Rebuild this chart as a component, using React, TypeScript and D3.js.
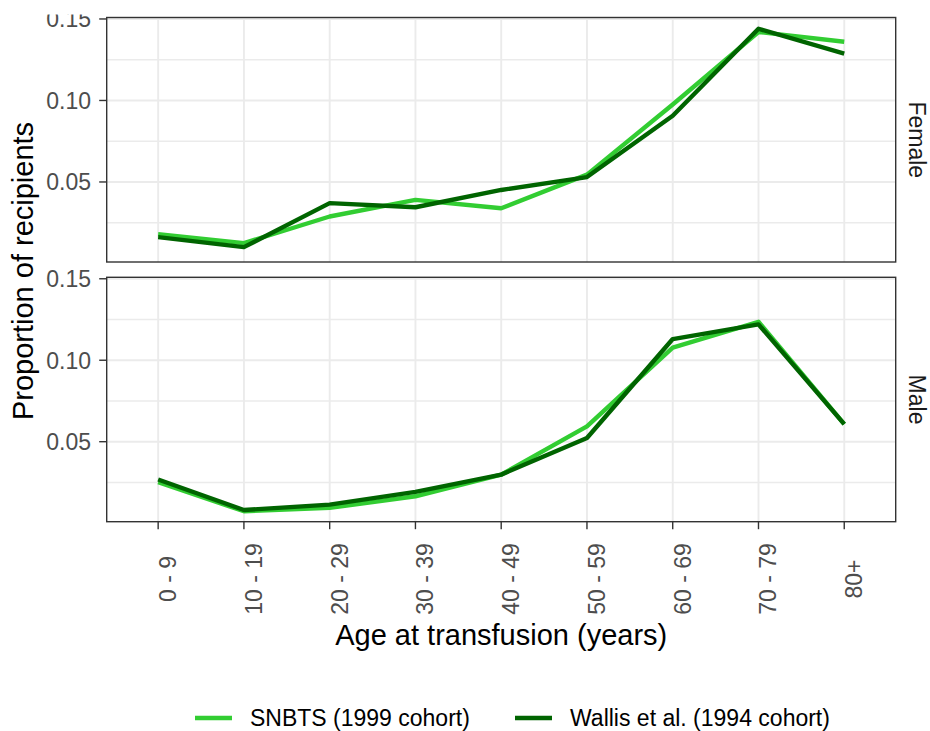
import React from "react";
import * as d3 from "d3";

const categories = ["0 - 9", "10 - 19", "20 - 29", "30 - 39", "40 - 49", "50 - 59", "60 - 69", "70 - 79", "80+"];
const femaleSNBTS = [0.0179, 0.0125, 0.0288, 0.039, 0.0339, 0.0545, 0.0975, 0.142, 0.136];
const femaleWallis = [0.0162, 0.0100, 0.037, 0.0345, 0.0451, 0.053, 0.0906, 0.144, 0.1288];
const maleSNBTS = [0.0251, 0.0073, 0.0094, 0.0165, 0.0298, 0.0594, 0.1077, 0.1236, 0.0608];
const maleWallis = [0.0268, 0.0081, 0.0114, 0.0192, 0.0298, 0.0523, 0.113, 0.122, 0.0608];
const yTicks = [0.05, 0.1, 0.15];
const yMinor = [0.025, 0.075, 0.125];
const seriesNames = ["SNBTS (1999 cohort)", "Wallis et al. (1994 cohort)"];
const seriesColors = ["#32CD32", "#006400"];
const panelNames = ["Female", "Male"];

const W = 930;
const H = 731;
const left = 106.7;
const right = 895.7;
const panels = [
  { top: 17.5, bottom: 262, series: [femaleSNBTS, femaleWallis], name: panelNames[0] },
  { top: 277.3, bottom: 521.7, series: [maleSNBTS, maleWallis], name: panelNames[1] },
];
const font = "'Liberation Sans', Arial, Helvetica, sans-serif";

export default function App() {
  const x = d3.scalePoint<string>().domain(categories).range([left, right]).padding(0.6);
  return (
    <svg width={W} height={H} style={{ position: "fixed", left: 0, top: 0, background: "#fff" }} fontFamily={font}>
      <rect x={0} y={0} width={W} height={H} fill="#fff" />
      {panels.map((p, pi) => {
        const y = d3.scaleLinear().domain([0.0009, 0.1509]).range([p.bottom, p.top]);
        const line = d3
          .line<number>()
          .x((_, i) => x(categories[i]) as number)
          .y((d) => y(d));
        return (
          <g key={pi}>
            {yMinor.map((t) => (
              <line key={"mi" + t} x1={left} x2={right} y1={y(t)} y2={y(t)} stroke="#EBEBEB" strokeWidth={1.4} />
            ))}
            {yTicks.map((t) => (
              <line key={"ma" + t} x1={left} x2={right} y1={y(t)} y2={y(t)} stroke="#EBEBEB" strokeWidth={1.9} />
            ))}
            {categories.map((c) => (
              <line key={"v" + c} x1={x(c)} x2={x(c)} y1={p.top} y2={p.bottom} stroke="#EBEBEB" strokeWidth={1.9} />
            ))}
            {p.series.map((s, si) => (
              <path
                key={si}
                d={line(s) as string}
                fill="none"
                stroke={seriesColors[si]}
                strokeWidth={4.4}
                strokeLinejoin="round"
                strokeLinecap="butt"
              />
            ))}
            <rect x={left} y={p.top} width={right - left} height={p.bottom - p.top} fill="none" stroke="#333333" strokeWidth={1.4} />
            {yTicks.map((t) => (
              <g key={"yt" + t}>
                <line x1={left - 7.5} x2={left} y1={y(t)} y2={y(t)} stroke="#333333" strokeWidth={1.4} />
                <text x={91} y={y(t)} dy="0.36em" textAnchor="end" fontSize={23} fill="#4D4D4D">
                  {d3.format(".2f")(t)}
                </text>
              </g>
            ))}
            <text
              transform={`translate(909, ${(p.top + p.bottom) / 2}) rotate(90)`}
              textAnchor="middle"
              fontSize={23}
              fill="#1A1A1A"
            >
              {p.name}
            </text>
          </g>
        );
      })}
      {categories.map((c) => (
        <g key={"xt" + c}>
          <line x1={x(c)} x2={x(c)} y1={521.7} y2={529.2} stroke="#333333" strokeWidth={1.4} />
          <text
            transform={`translate(${(x(c) as number) + 18}, 579) rotate(-90)`}
            textAnchor="middle"
            fontSize={23}
            fill="#4D4D4D"
          >
            {c}
          </text>
        </g>
      ))}
      <text x={(left + right) / 2} y={645} textAnchor="middle" fontSize={29} fill="#000">
        Age at transfusion (years)
      </text>
      <text transform={`translate(33, 271) rotate(-90)`} textAnchor="middle" fontSize={29} fill="#000">
        Proportion of recipients
      </text>
      {seriesNames.map((n, i) => {
        const kx = i === 0 ? 195 : 515;
        return (
          <g key={n}>
            <line x1={kx} x2={kx + 37} y1={718} y2={718} stroke={seriesColors[i]} strokeWidth={4.6} />
            <text x={kx + 55} y={718} dy="0.36em" fontSize={23} fill="#000">
              {n}
            </text>
          </g>
        );
      })}
      <rect x={0} y={0} width={W} height={14.5} fill="#fff" />
    </svg>
  );
}
